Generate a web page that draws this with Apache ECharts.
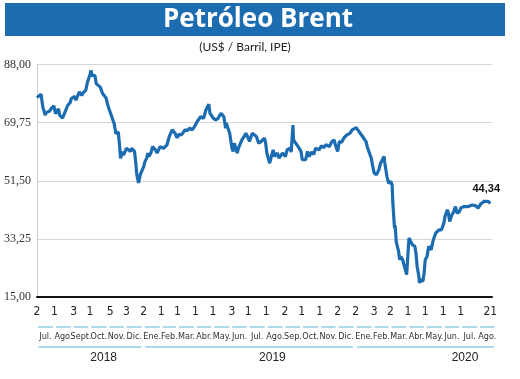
<!DOCTYPE html>
<html><head><meta charset="utf-8">
<script src="https://cdn.jsdelivr.net/npm/echarts@6/dist/echarts.min.js"></script>
<style>html,body{margin:0;padding:0;background:#fff}#c{width:520px;height:379px}</style>
</head><body><div id="c"></div>
<script>
// ---------- DATA ----------
const dates = [
'2018-07-02','2018-07-05','2018-07-09','2018-07-12','2018-07-16','2018-07-18','2018-07-20','2018-07-24','2018-07-26','2018-07-31',
'2018-08-03','2018-08-08','2018-08-10','2018-08-15','2018-08-17','2018-08-20','2018-08-24','2018-08-28','2018-08-30',
'2018-09-05','2018-09-07','2018-09-13','2018-09-17','2018-09-20','2018-09-24','2018-09-27',
'2018-10-01','2018-10-03','2018-10-05','2018-10-08','2018-10-10','2018-10-12','2018-10-15','2018-10-19','2018-10-23','2018-10-29',
'2018-11-01','2018-11-05','2018-11-08','2018-11-12','2018-11-15','2018-11-19','2018-11-21','2018-11-23','2018-11-26','2018-11-28','2018-11-30',
'2018-12-03','2018-12-06','2018-12-10','2018-12-12','2018-12-17','2018-12-19','2018-12-21','2018-12-24','2018-12-27',
'2019-01-02','2019-01-04','2019-01-07','2019-01-09','2019-01-11','2019-01-15','2019-01-17','2019-01-22','2019-01-25','2019-01-30',
'2019-02-05','2019-02-11','2019-02-15','2019-02-20','2019-02-25','2019-02-28',
'2019-03-04','2019-03-08','2019-03-14','2019-03-18','2019-03-22','2019-03-27',
'2019-04-01','2019-04-04','2019-04-10','2019-04-15','2019-04-19','2019-04-24','2019-04-26',
'2019-05-02','2019-05-06','2019-05-10','2019-05-15','2019-05-20','2019-05-23','2019-05-24','2019-05-30',
'2019-06-03','2019-06-05','2019-06-07','2019-06-12','2019-06-14','2019-06-20','2019-06-24','2019-06-27',
'2019-07-01','2019-07-03','2019-07-08','2019-07-11','2019-07-15','2019-07-19','2019-07-23','2019-07-29','2019-07-31',
'2019-08-02','2019-08-07','2019-08-09','2019-08-13','2019-08-15','2019-08-20','2019-08-23','2019-08-29',
'2019-09-03','2019-09-06','2019-09-11','2019-09-13','2019-09-16','2019-09-17','2019-09-20','2019-09-25','2019-09-30',
'2019-10-02','2019-10-08','2019-10-11','2019-10-14','2019-10-18','2019-10-22','2019-10-25','2019-10-31',
'2019-11-04','2019-11-08','2019-11-12','2019-11-18','2019-11-22','2019-11-26','2019-11-28',
'2019-12-02','2019-12-05','2019-12-09','2019-12-13','2019-12-18','2019-12-23','2019-12-27','2019-12-30',
'2020-01-03','2020-01-06','2020-01-08','2020-01-10','2020-01-14','2020-01-17','2020-01-20','2020-01-22','2020-01-27','2020-01-29','2020-01-31',
'2020-02-03','2020-02-07','2020-02-11','2020-02-14','2020-02-20','2020-02-21','2020-02-25','2020-02-28',
'2020-03-03','2020-03-05','2020-03-06','2020-03-09','2020-03-10','2020-03-11','2020-03-12','2020-03-16','2020-03-18','2020-03-20','2020-03-23','2020-03-26','2020-03-30',
'2020-04-02','2020-04-03','2020-04-06','2020-04-09','2020-04-13','2020-04-15','2020-04-17','2020-04-20','2020-04-21','2020-04-23','2020-04-27','2020-04-29',
'2020-05-01','2020-05-04','2020-05-07','2020-05-11','2020-05-13','2020-05-15','2020-05-19','2020-05-20','2020-05-25','2020-05-27','2020-05-29',
'2020-06-02','2020-06-04','2020-06-08','2020-06-10','2020-06-12','2020-06-16','2020-06-19','2020-06-22','2020-06-25','2020-06-29',
'2020-07-01','2020-07-06','2020-07-09','2020-07-14','2020-07-17','2020-07-21','2020-07-27','2020-07-30','2020-07-31',
'2020-08-05','2020-08-10','2020-08-13','2020-08-18','2020-08-21'
];
const prices = [
77.6,77.4,78.7,74.7,72.1,72.9,73.1,73.4,74.1,75.0,
72.6,74.1,72.1,71.2,72.0,72.5,75.2,76.0,77.3,
78.0,76.8,79.4,78.3,79.2,79.9,82.5,
84.6,86.2,84.6,84.1,84.5,82.0,81.5,80.9,78.9,77.5,
75.2,73.1,71.5,69.4,66.3,66.8,63.2,58.5,60.6,59.6,60.3,
61.7,62.1,60.7,61.7,60.7,57.5,53.4,50.8,53.4,
56.0,57.5,58.6,60.2,59.1,60.6,62.2,61.2,60.2,62.2,
61.7,62.8,65.4,67.5,66.4,65.0,
66.1,65.9,67.5,67.2,68.0,67.5,
69.0,70.1,71.6,71.1,73.7,75.5,72.7,
71.1,70.6,71.1,72.7,71.6,68.0,69.6,66.4,
61.7,60.7,63.3,60.2,61.7,64.3,65.4,66.4,
64.9,63.8,66.4,66.9,65.4,63.3,63.8,64.9,63.3,
60.2,57.0,58.6,61.2,59.1,60.2,58.6,60.2,
59.1,61.2,61.7,60.5,69.0,64.3,64.3,62.2,60.7,
58.1,58.1,60.7,59.1,60.5,59.8,61.7,61.2,
62.5,61.9,62.8,62.2,63.8,64.3,62.8,
60.7,63.8,63.6,65.0,65.9,66.4,67.5,67.3,
68.2,68.8,66.9,67.3,65.4,64.9,63.8,62.2,59.6,58.6,56.5,
53.9,53.4,54.9,57.0,59.1,57.5,52.8,50.7,
51.3,50.0,45.0,36.6,37.5,35.0,32.4,29.3,26.7,27.7,26.7,26.2,22.0,
30.9,33.5,32.4,31.4,30.9,28.8,24.6,21.5,19.4,20.4,19.9,22.5,
26.7,27.7,30.9,29.8,30.4,33.0,35.1,35.6,36.1,35.6,36.1,
38.2,40.3,42.4,41.3,38.7,40.8,41.8,43.4,41.3,41.8,
42.9,43.4,42.9,43.4,43.9,43.9,43.6,43.6,42.9,
44.3,45.0,44.7,45.0,44.34
];
const yTicks = [15, 33.25, 51.5, 69.75, 88];
const tickDates = ['2018-07-02','2018-08-01','2018-09-03','2018-10-01','2018-11-05','2018-12-03',
  '2019-01-02','2019-02-01','2019-03-01','2019-04-01','2019-05-01','2019-06-03','2019-07-01','2019-08-01',
  '2019-09-02','2019-10-01','2019-11-01','2019-12-02','2020-01-02','2020-02-03','2020-03-02','2020-04-01',
  '2020-05-01','2020-06-01','2020-07-01','2020-08-21'];
const tickLabels = ['2','1','3','1','5','3','2','1','1','1','1','3','1','1','2','1','1','2','2','3','2','1','1','1','1','21'];
const monthStarts = ['2018-07-01','2018-08-01','2018-09-01','2018-10-01','2018-11-01','2018-12-01',
  '2019-01-01','2019-02-01','2019-03-01','2019-04-01','2019-05-01','2019-06-01','2019-07-01','2019-08-01',
  '2019-09-01','2019-10-01','2019-11-01','2019-12-01','2020-01-01','2020-02-01','2020-03-01','2020-04-01',
  '2020-05-01','2020-06-01','2020-07-01','2020-08-01','2020-08-31'];
const monthLabels = ['Jul.','Ago.','Sept.','Oct.','Nov.','Dic.','Ene.','Feb.','Mar.','Abr.','May.','Jun.','Jul.',
  'Ago.','Sep.','Oct.','Nov.','Dic.','Ene.','Feb.','Mar.','Abr.','May.','Jun.','Jul.','Ago.'];
const yearStarts = ['2018-07-01','2019-01-01','2020-01-01','2020-08-31'];
const yearLabels = ['2018','2019','2020'];

// ---------- STYLE ----------
const BLUE = '#1c6cb2';
const LIGHT = '#93cfe6';
const NARROW = '"Liberation Sans Narrow","DejaVu Sans Condensed",sans-serif';
const YEAR_LABEL_POS = [0.63, 0.61, 0.78];
const T = s => new Date(s + 'T00:00:00').getTime();
const fmt = v => v.toFixed(2).replace('.', ',');

const chart = echarts.init(document.getElementById('c'), null, {renderer: 'canvas'});
const xMin = T('2018-07-02'), xMax = T('2020-08-24');
const lastI = prices.length - 1;

chart.setOption({
  animation: false,
  backgroundColor: '#fff',
  graphic: [
    {type: 'rect', left: 5, top: 3, shape: {width: 500, height: 33}, style: {fill: BLUE}, z: 0},
    {type: 'text', x: 258, y: 20, style: {text: 'Petróleo Brent', fill: '#fff', align: 'center', verticalAlign: 'middle',
      font: 'bold 26px "Open Sans", Lato, sans-serif'}, z: 1},
    {type: 'text', x: 245, y: 47, style: {text: '(US$ / Barril, IPE)', fill: '#222', align: 'center',
      verticalAlign: 'middle', font: '12px Lato, "Open Sans", sans-serif'}}
  ],
  grid: [
    {left: 37, right: 28, top: 64.5, bottom: 82},
    {left: 37, right: 28, top: 300, height: 70}
  ],
  xAxis: [
    {type: 'time', gridIndex: 0, min: xMin, max: xMax,
     axisLine: {show: true, lineStyle: {color: '#111', width: 2}},
     axisTick: {show: false}, axisLabel: {show: false}, splitLine: {show: false}},
    {type: 'time', gridIndex: 1, min: xMin, max: xMax, show: false}
  ],
  yAxis: [
    {type: 'value', gridIndex: 0, min: 15, max: 88,
     axisLine: {show: true, lineStyle: {color: '#cfcfcf', width: 1}},
     axisTick: {show: false, customValues: yTicks},
     axisLabel: {customValues: yTicks, formatter: fmt, margin: 6, color: '#333',
       fontFamily: '"Liberation Serif", serif', fontSize: 12},
     splitLine: {show: true, lineStyle: {color: '#d6d6d6', width: 1}}},
    {type: 'value', gridIndex: 1, min: 0, max: 70, show: false}
  ],
  series: [
    {type: 'line', xAxisIndex: 0, yAxisIndex: 0, showSymbol: false, symbol: 'none',
     data: dates.map((d, i) => [T(d), prices[i]]),
     lineStyle: {color: BLUE, width: 3.2}, z: 3,
     markPoint: {symbol: 'circle', symbolSize: 0,
       data: [{coord: [T(dates[lastI]), prices[lastI]], value: prices[lastI]}],
       label: {show: true, position: 'top', distance: 9, offset: [-4, 0], formatter: p => fmt(p.value),
         color: '#111', fontWeight: 'bold', fontSize: 11, fontFamily: '"Liberation Sans", Arial, sans-serif'}}},
    {type: 'custom', xAxisIndex: 1, yAxisIndex: 1, silent: true,
     data: monthLabels.map((m, i) => [T(monthStarts[i]), 0]),
     encode: {x: 0, y: 1},
     renderItem: (params, api) => {
       const i = params.dataIndex;
       const top = params.coordSys.y;
       const x0 = api.coord([T(monthStarts[i]), 0])[0];
       const x1 = api.coord([T(monthStarts[i + 1]), 0])[0];
       const xt = api.coord([T(tickDates[i]), 0])[0];
       return {type: 'group', children: [
         {type: 'text', style: {x: xt, y: top + 12, text: tickLabels[i], align: 'center', verticalAlign: 'middle',
           fill: '#222', font: '12px ' + NARROW}},
         {type: 'line', shape: {x1: x0 + 1.5, y1: top + 27, x2: x1 - 1.5, y2: top + 27},
           style: {stroke: LIGHT, lineWidth: 1.5}},
         {type: 'text', style: {x: (x0 + x1) / 2, y: top + 37, text: monthLabels[i], align: 'center',
           verticalAlign: 'middle', fill: '#333', font: '9px ' + NARROW}}
       ]};
     }},
    {type: 'custom', xAxisIndex: 1, yAxisIndex: 1, silent: true,
     data: yearLabels.map((m, i) => [T(yearStarts[i]), 0]),
     encode: {x: 0, y: 1},
     renderItem: (params, api) => {
       const i = params.dataIndex;
       const top = params.coordSys.y;
       const x0 = api.coord([T(yearStarts[i]), 0])[0];
       const x1 = api.coord([T(yearStarts[i + 1]), 0])[0];
       return {type: 'group', children: [
         {type: 'line', shape: {x1: x0 + 2, y1: top + 47, x2: x1 - 2, y2: top + 47},
           style: {stroke: LIGHT, lineWidth: 1.5}},
         {type: 'text', style: {x: x0 + (x1 - x0) * YEAR_LABEL_POS[i], y: top + 58, text: yearLabels[i],
           align: 'center', verticalAlign: 'middle', fill: '#222', font: '12px "Liberation Sans", Arial, sans-serif'}}
       ]};
     }}
  ]
});
</script></body></html>
